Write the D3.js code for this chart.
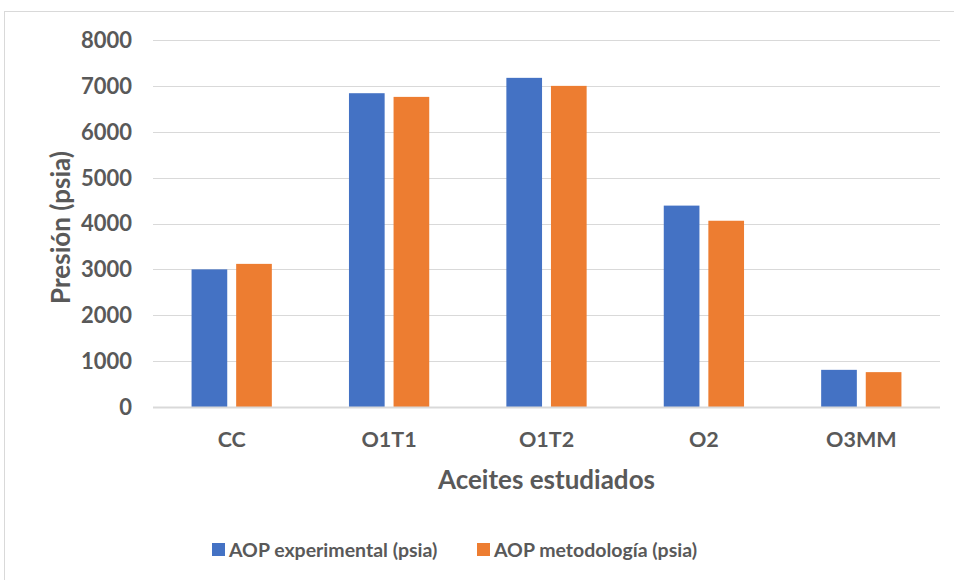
<!DOCTYPE html>
<html>
<head>
<meta charset="utf-8">
<script src="https://cdn.jsdelivr.net/npm/d3@7"></script>
<style>
  html, body { margin: 0; padding: 0; background: #fff; }
  svg { display: block; }
  text { font-family: Lato, "Open Sans", sans-serif; font-weight: bold; fill: #595959; }
</style>
</head>
<body>
<svg id="chart" width="954" height="580"></svg>
<script>
// Oils studied and their pressures (psia)
const categories = ["CC", "O1T1", "O1T2", "O2", "O3MM"];
const seriesNames = ["AOP experimental (psia)", "AOP metodología (psia)"];
const experimental = [3000, 6840, 7175, 4390, 810];
const metodologia = [3120, 6760, 7000, 4060, 760];
const yTicks = [0, 1000, 2000, 3000, 4000, 5000, 6000, 7000, 8000];
const colors = ["#4472C4", "#ED7D31"];

const svg = d3.select("#chart");
const margin = { left: 153, right: 14, top: 40, bottom: 173 };
const W = 954, H = 580;

// outer chart frame
svg.append("rect")
  .attr("x", 4.5).attr("y", 11.5)
  .attr("width", 960).attr("height", 600)
  .attr("fill", "none").attr("stroke", "#d9d9d9");

const x = d3.scaleBand()
  .domain(categories)
  .range([margin.left, W - margin.right])
  .paddingInner(0.49).paddingOuter(0.245);

const sub = d3.scaleBand()
  .domain([0, 1])
  .range([0, x.bandwidth()])
  .paddingInner(0.2);

const y = d3.scaleLinear()
  .domain([0, 8000])
  .range([H - margin.bottom, margin.top]);

// horizontal gridlines
svg.append("g")
  .selectAll("line")
  .data(yTicks)
  .join("line")
  .attr("x1", margin.left).attr("x2", W - margin.right)
  .attr("y1", d => Math.round(y(d)) + 0.5).attr("y2", d => Math.round(y(d)) + 0.5)
  .attr("stroke", "#d9d9d9").attr("stroke-width", 1);

// y tick labels
svg.append("g")
  .selectAll("text")
  .data(yTicks)
  .join("text")
  .attr("x", 132).attr("y", d => y(d))
  .attr("dy", "0.36em")
  .attr("text-anchor", "end")
  .attr("font-size", 22)
  .text(d => d);

// bars
const table = categories.map((c, i) => ({ c, vals: [experimental[i], metodologia[i]] }));
const groups = svg.append("g")
  .selectAll("g")
  .data(table)
  .join("g")
  .attr("transform", d => `translate(${x(d.c)},0)`);

groups.selectAll("rect")
  .data(d => d.vals.map((v, k) => ({ v, k })))
  .join("rect")
  .attr("x", d => sub(d.k))
  .attr("width", sub.bandwidth())
  .attr("y", d => y(d.v))
  .attr("height", d => y(0) - y(d.v))
  .attr("fill", d => colors[d.k]);

// baseline
svg.append("line")
  .attr("x1", margin.left).attr("x2", W - margin.right)
  .attr("y1", Math.round(y(0)) + 0.5).attr("y2", Math.round(y(0)) + 0.5)
  .attr("stroke", "#d9d9d9").attr("stroke-width", 2);

// category labels
svg.append("g")
  .selectAll("text")
  .data(categories)
  .join("text")
  .attr("x", d => x(d) + x.bandwidth() / 2)
  .attr("y", 439)
  .attr("dy", "0.36em")
  .attr("text-anchor", "middle")
  .attr("font-size", 21.5)
  .text(d => d);

// axis titles
svg.append("text")
  .attr("x", (margin.left + W - margin.right) / 2)
  .attr("y", 480).attr("dy", "0.36em")
  .attr("text-anchor", "middle")
  .attr("font-size", 26)
  .text("Aceites estudiados");

svg.append("text")
  .attr("transform", `translate(61,${(y(0) + y(8000)) / 2 + 4}) rotate(-90)`)
  .attr("dy", "0.36em")
  .attr("text-anchor", "middle")
  .attr("font-size", 26)
  .text("Presión (psia)");

// legend
const legendX = [212, 477];
const legend = svg.append("g")
  .selectAll("g")
  .data(seriesNames)
  .join("g")
  .attr("transform", (d, i) => `translate(${legendX[i]},543)`);
legend.append("rect")
  .attr("width", 13).attr("height", 13)
  .attr("fill", (d, i) => colors[i]);
legend.append("text")
  .attr("x", 17).attr("y", 6.5).attr("dy", "0.36em")
  .attr("font-size", 19.5)
  .text(d => d);
</script>
</body>
</html>
